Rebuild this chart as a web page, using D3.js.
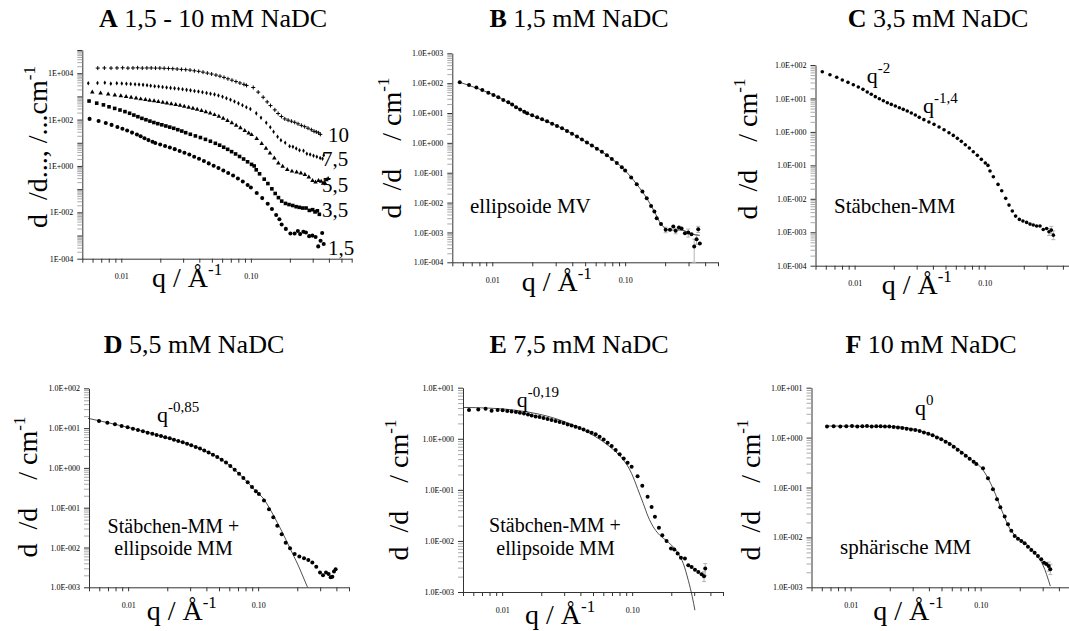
<!DOCTYPE html>
<html>
<head>
<meta charset="utf-8">
<title>SANS NaDC</title>
<script src="https://cdn.jsdelivr.net/npm/d3@7/dist/d3.min.js"></script>
<style>
  html, body { margin: 0; padding: 0; background: #fff; }
  svg { display: block; background: #fff; }
  text { font-family: "Liberation Serif", "Times New Roman", serif; fill: #000; }
</style>
</head>
<body>
<svg id="fig" width="1069" height="631"></svg>
<script>
// ---- scattering curves: q in 1/Å, intensity in 1/cm ----
// 1,5 mM NaDC
const qB = [0.00569,0.00668,0.00759,0.00841,0.00933,0.0102,0.0111,0.0121,0.0132,0.0141,0.0151,0.0162,0.0174,0.0183,0.01995,0.02176,0.0237,0.02585,0.0282,0.0307,0.0335,0.0365,0.0398,0.0434,0.0473,0.0516,0.0562,0.0613,0.0668,0.0729,0.0794,0.0866,0.0944,0.1,0.111,0.1223,0.1349,0.1454,0.1567,0.166,0.1728,0.1862,0.2018,0.2175,0.2304,0.2399,0.2541,0.266,0.2818,0.2985,0.316,0.331,0.345,0.355,0.365];
const iB = [107,87,71,59,48,40,34,27.4,22.9,19.1,15.6,13.0,11.1,9.8,8.4,7.2,6.2,5.3,4.4,3.7,3.1,2.5,2.04,1.62,1.29,1.02,0.81,0.64,0.50,0.385,0.29,0.213,0.152,0.118,0.0687,0.041,0.0233,0.014,0.0077,0.005,0.003,0.00193,0.00122,0.00122,0.00157,0.00115,0.00146,0.00135,0.00094,0.00099,0.00087,0.00034,0.00059,0.00128,0.00043];
const fitQB = [0.00569,0.0111,0.0183,0.0335,0.0516,0.0729,0.1,0.1223,0.1454,0.166,0.1862,0.2175,0.266,0.316,0.365];
const fitIB = [107,34,9.8,3.1,1.02,0.385,0.118,0.041,0.014,0.005,0.0019,0.0012,0.0012,0.0009,0.0008];
const errB = [[0.2018,0.00098,0.0015],[0.2399,0.0009,0.0014],[0.2985,0.0007,0.0013],[0.331,0.0001,0.0006],[0.345,0.0004,0.0008],[0.355,0.001,0.0016]];

// 3,5 mM NaDC
const qC = [0.00564,0.00646,0.00728,0.00804,0.00889,0.00977,0.01067,0.01159,0.0125,0.01343,0.01442,0.01549,0.01663,0.01784,0.01914,0.02055,0.02207,0.02366,0.0254,0.0273,0.0293,0.0314,0.0341,0.0373,0.0408,0.0446,0.0487,0.0532,0.0574,0.0617,0.0662,0.071,0.0762,0.0818,0.0879,0.0943,0.1012,0.1061,0.11,0.1167,0.1268,0.1353,0.1452,0.154,0.1633,0.173,0.185,0.197,0.2104,0.2234,0.2366,0.2512,0.2667,0.2825,0.2998,0.3126,0.326,0.3377];
const iC = [63,51,43,35.6,30.3,25.8,22.0,18.7,15.6,13.3,11.3,9.84,8.57,7.46,6.65,5.93,5.29,4.72,4.21,3.66,3.19,2.72,2.32,1.97,1.68,1.40,1.16,0.946,0.787,0.641,0.521,0.414,0.329,0.256,0.199,0.151,0.117,0.0998,0.068,0.0457,0.0269,0.0174,0.0103,0.00649,0.0043,0.00304,0.00242,0.00216,0.00197,0.00175,0.00164,0.00153,0.00153,0.00121,0.0013,0.00104,0.00116,0.00082];
const errC = [[0.3126,0.0008,0.0013],[0.326,0.0009,0.0015],[0.3377,0.0006,0.0011]];

// 5,5 mM NaDC
const qD = [0.00597,0.00692,0.00792,0.00891,0.00991,0.01089,0.0119,0.013,0.01412,0.01535,0.01656,0.0179,0.0193,0.0209,0.0225,0.0243,0.0263,0.0284,0.0306,0.0331,0.0357,0.0385,0.0416,0.0449,0.0485,0.0524,0.0566,0.0611,0.066,0.0713,0.077,0.0831,0.0897,0.0962,0.1014,0.1109,0.1212,0.1308,0.1404,0.1517,0.1629,0.1759,0.191,0.2075,0.2254,0.2432,0.2612,0.28,0.2992,0.3155,0.3327,0.3485,0.3612,0.3724,0.3832,0.3946];
const iD = [15.1,13.7,12.5,11.3,10.5,9.70,8.98,8.31,7.69,7.26,6.71,6.34,5.87,5.54,5.13,4.75,4.40,4.07,3.70,3.36,3.05,2.72,2.42,2.15,1.88,1.61,1.36,1.12,0.904,0.718,0.558,0.435,0.332,0.258,0.221,0.151,0.0912,0.0574,0.0354,0.0215,0.0132,0.00955,0.00689,0.0059,0.00536,0.00486,0.00417,0.0033,0.00234,0.002,0.00234,0.00216,0.00178,0.00185,0.00248,0.00283];
const fitQD = [0.00491,0.00991,0.0193,0.0357,0.0566,0.077,0.0962,0.1109,0.1212,0.1308,0.1404,0.1517,0.1629,0.1759,0.1888,0.2027,0.2188,0.24];
const fitID = [17.6,10.5,5.87,3.05,1.36,0.558,0.258,0.163,0.102,0.0656,0.0422,0.026,0.0161,0.00955,0.0059,0.00364,0.00204,0.001];

// 7,5 mM NaDC
const qE = [0.00556,0.00655,0.00746,0.0083,0.00923,0.01009,0.01095,0.01182,0.01277,0.0137,0.01472,0.0158,0.01686,0.01809,0.01941,0.02083,0.02237,0.02401,0.02577,0.02767,0.0297,0.0319,0.0342,0.0367,0.0394,0.0423,0.0455,0.0488,0.0524,0.0562,0.0604,0.0648,0.0696,0.0747,0.0802,0.0861,0.0923,0.0991,0.1101,0.1197,0.1315,0.1412,0.1497,0.1607,0.1706,0.1841,0.199,0.2111,0.2239,0.2374,0.2548,0.2704,0.2868,0.3043,0.3228,0.3425,0.3573,0.365];
const iE = [3.65,3.76,3.87,3.54,3.65,3.60,3.48,3.43,3.33,3.24,3.14,3.00,2.87,2.74,2.66,2.54,2.43,2.32,2.22,2.12,2.03,1.91,1.82,1.72,1.62,1.52,1.41,1.31,1.22,1.09,0.97,0.835,0.718,0.60,0.50,0.411,0.338,0.283,0.185,0.12,0.073,0.0464,0.0296,0.0182,0.0129,0.01,0.00708,0.00676,0.00565,0.00471,0.00451,0.00333,0.00309,0.00274,0.00247,0.00222,0.00203,0.00287];
const fitQE = [0.00502,0.00782,0.01413,0.02548,0.0459,0.0655,0.0781,0.0879,0.0991,0.1101,0.1218,0.133,0.1455,0.159,0.179,0.2014,0.2266,0.2476,0.2704,0.2904,0.304];
const fitIE = [4.11,3.99,3.49,2.51,1.33,0.74,0.50,0.354,0.209,0.106,0.054,0.0296,0.0188,0.0139,0.0106,0.0082,0.00565,0.0036,0.00169,0.0008,0.00044];
const errE = [[0.3573,0.0016,0.0025],[0.365,0.0021,0.0036]];

// 10 mM NaDC
const qF = [0.00658,0.0074,0.00833,0.00926,0.01024,0.01125,0.0123,0.01336,0.01452,0.01575,0.01701,0.01837,0.01984,0.02142,0.02312,0.02496,0.02696,0.0291,0.03142,0.03393,0.03663,0.03955,0.04271,0.04611,0.04978,0.05375,0.05775,0.06202,0.06653,0.07145,0.07674,0.08229,0.08833,0.09264,0.1043,0.1139,0.1244,0.1336,0.1417,0.1531,0.1623,0.1722,0.1827,0.1937,0.2055,0.218,0.2312,0.2453,0.2602,0.276,0.2928,0.3071,0.3198,0.3334,0.3435];
const iF = [1.66,1.68,1.66,1.68,1.71,1.66,1.68,1.71,1.66,1.68,1.68,1.66,1.66,1.63,1.60,1.56,1.51,1.46,1.42,1.36,1.27,1.20,1.11,1.01,0.922,0.828,0.743,0.658,0.573,0.499,0.435,0.378,0.33,0.296,0.242,0.153,0.0918,0.058,0.0401,0.0261,0.0183,0.0136,0.0107,0.00944,0.00848,0.0076,0.00653,0.0056,0.00494,0.00425,0.00364,0.00312,0.00293,0.00267,0.0023];
const fitQF = [0.00658,0.0212,0.0382,0.0578,0.0823,0.1043,0.1244,0.1485,0.1672,0.188,0.2244,0.268,0.3013,0.3435];
const fitIF = [1.71,1.66,1.25,0.767,0.384,0.224,0.0962,0.0303,0.0152,0.0104,0.00738,0.00445,0.0028,0.00106];
const errF = [[0.3334,0.0021,0.0032],[0.3435,0.0018,0.0029]];

// overview panel: curves shifted by decades
const concLabels  = ["10", "7,5", "5,5", "3,5", "1,5"];
const concFactors = [1e4, 1e3, 1e2, 1e1, 1];

// labelled ticks
const xTickValues = [0.01, 0.1];
const xTickText   = ["0.01", "0.10"];

const svg = d3.select("#fig");
const SERIF = "'Liberation Serif', 'Times New Roman', serif";

const isDecade = d => Math.abs(Math.log10(d) - Math.round(Math.log10(d))) < 1e-6;
const expLabel = (d, longForm) => {
  const e = Math.round(Math.log10(d));
  return (longForm ? "1.0E" : "1E") + (e < 0 ? "-" : "+") + String(Math.abs(e)).padStart(3, "0");
};
const pairs = (q, v) => q.map((d, k) => [d, v[k]]);

function makePanel(cfg) {
  const x = d3.scaleLog().domain(cfg.xDom).range(cfg.xRange);
  const y = d3.scaleLog().domain(cfg.yDom).range(cfg.yRange);
  const g = svg.append("g");

  // x axis: every 1..9 x 10^n tick, labels only at 0.01 and 0.10
  const xAxis = d3.axisBottom(x)
    .tickValues(x.ticks())
    .tickSizeInner(4).tickSizeOuter(0).tickPadding(11)
    .tickFormat(d => {
      const k = xTickValues.findIndex(v => Math.abs(v - d) / v < 1e-6);
      return k >= 0 ? xTickText[k] : "";
    });
  const gx = g.append("g").attr("transform", `translate(0,${cfg.yRange[0]})`).call(xAxis);
  gx.attr("font-family", null);
  gx.select(".domain").attr("stroke", "#333").attr("stroke-width", 1);
  gx.selectAll(".tick line").attr("stroke", "#333");
  gx.selectAll(".tick text").style("font-family", SERIF).attr("font-size", 8).attr("fill", "#000");

  // y axis: grey minor ticks, labelled decades
  const yAxis = d3.axisLeft(y)
    .tickValues(y.ticks())
    .tickSizeInner(5).tickSizeOuter(0).tickPadding(4)
    .tickFormat(d => {
      if (!isDecade(d)) return "";
      const e = Math.round(Math.log10(d));
      if (cfg.evenOnly && e % 2 !== 0) return "";
      return expLabel(d, !cfg.evenOnly);
    });
  const gy = g.append("g").attr("transform", `translate(${cfg.xRange[0]},0)`).call(yAxis);
  gy.attr("font-family", null);
  gy.select(".domain").attr("stroke", "#333").attr("stroke-width", 1);
  gy.selectAll(".tick line").attr("stroke", d => isDecade(d) ? "#333" : "#aaa");
  gy.selectAll(".tick text").style("font-family", SERIF).attr("font-size", 8).attr("fill", "#000");

  // title
  const t = g.append("text").attr("x", cfg.title[0]).attr("y", cfg.title[1])
    .attr("text-anchor", "middle").attr("font-size", 26).style("font-family", SERIF);
  t.append("tspan").attr("font-weight", "bold").text(cfg.letter);
  t.append("tspan").text(" " + cfg.titleText);

  // x label
  const xl = g.append("text").attr("x", cfg.xLabel[0]).attr("y", cfg.xLabel[1])
    .attr("font-size", 28).style("font-family", SERIF);
  xl.append("tspan").text("q / Å");
  xl.append("tspan").attr("font-size", 17).attr("dy", -12).text("-1");

  // y label
  const yl = g.append("text")
    .attr("transform", `translate(${cfg.yLabel[0]},${cfg.yLabel[1]}) rotate(-90)`)
    .attr("text-anchor", "middle").attr("font-size", 28)
    .style("font-family", SERIF).style("white-space", "pre");
  yl.append("tspan").text(cfg.yLabelText);
  yl.append("tspan").attr("font-size", 17).attr("dy", -12).text("-1");

  return { g, x, y };
}

function drawDots(p, data, r) {
  p.g.append("g").selectAll("circle").data(data).join("circle")
    .attr("cx", d => p.x(d[0])).attr("cy", d => p.y(d[1])).attr("r", r).attr("fill", "#000");
}
function drawFit(p, data) {
  p.g.append("path").datum(data)
    .attr("fill", "none").attr("stroke", "#222").attr("stroke-width", 0.8)
    .attr("d", d3.line().x(d => p.x(d[0])).y(d => p.y(d[1])).curve(d3.curveMonotoneX));
}
function drawErr(p, errs) {
  const eg = p.g.append("g").attr("stroke", "#b5b5b5").attr("stroke-width", 1);
  errs.forEach(e => {
    const cx = p.x(e[0]);
    eg.append("line").attr("x1", cx).attr("x2", cx).attr("y1", p.y(e[1])).attr("y2", p.y(e[2]));
    eg.append("line").attr("x1", cx - 2).attr("x2", cx + 2).attr("y1", p.y(e[2])).attr("y2", p.y(e[2]));
    eg.append("line").attr("x1", cx - 2).attr("x2", cx + 2).attr("y1", p.y(e[1])).attr("y2", p.y(e[1]));
  });
}
function note(p, x, y, str, size, anchor) {
  p.g.append("text").attr("x", x).attr("y", y).attr("font-size", size || 21)
    .attr("text-anchor", anchor || "start").style("font-family", SERIF).text(str);
}
function power(p, x, y, exponent) {
  const t = p.g.append("text").attr("x", x).attr("y", y).attr("font-size", 22).style("font-family", SERIF);
  t.append("tspan").text("q");
  t.append("tspan").attr("font-size", 15).attr("dy", -10).text(exponent);
}

const yLab = "d  /d    / cm";

// ---- A: all concentrations ----
const pA = makePanel({
  letter: "A", titleText: "1,5 - 10 mM NaDC", title: [213, 27],
  xDom: [0.005, 0.6], xRange: [82.3, 351.7], yDom: [1e-4, 1e5], yRange: [258.7, 50], evenOnly: true,
  xLabel: [152, 287], yLabel: [47, 147], yLabelText: "d  /d..., /...cm"
});
const seriesA = [[qF, iF], [qE, iE], [qD, iD], [qC, iC], [qB, iB]];
const symA = [null, d3.symbolDiamond, d3.symbolTriangle, d3.symbolSquare, d3.symbolCircle];
const sizeA = [0, 6, 9, 13, 13];
seriesA.forEach((s, k) => {
  const data = s[0].map((q, j) => [q, s[1][j] * concFactors[k]]);
  const sg = pA.g.append("g");
  if (symA[k] === null) {
    sg.selectAll("path").data(data).join("path")
      .attr("transform", d => `translate(${pA.x(d[0])},${pA.y(d[1])})`)
      .attr("d", "M-2,0H2M0,-2V2").attr("stroke", "#000").attr("stroke-width", 1).attr("fill", "none");
  } else {
    sg.selectAll("path").data(data).join("path")
      .attr("transform", d => `translate(${pA.x(d[0])},${pA.y(d[1])})`)
      .attr("d", d3.symbol(symA[k], sizeA[k])).attr("fill", "#000");
  }
});
const concPos = [[328, 141.7], [322, 166], [322, 192], [322, 217], [328, 255]];
concLabels.forEach((c, k) => note(pA, concPos[k][0], concPos[k][1], c, 21));

// ---- B ----
const pB = makePanel({
  letter: "B", titleText: "1,5 mM NaDC", title: [579, 27],
  xDom: [0.005, 0.5], xRange: [452.3, 718], yDom: [1e-4, 1e3], yRange: [262.3, 53.3],
  xLabel: [521.7, 291], yLabel: [401, 148], yLabelText: yLab
});
drawErr(pB, errB);
drawFit(pB, pairs(fitQB, fitIB));
drawDots(pB, pairs(qB, iB), 2);
note(pB, 470, 213, "ellipsoide MV");

// ---- C ----
const pC = makePanel({
  letter: "C", titleText: "3,5 mM NaDC", title: [938, 27],
  xDom: [0.005, 0.5], xRange: [815.5, 1075.5], yDom: [1e-4, 1e2], yRange: [265.7, 65],
  xLabel: [881.7, 294], yLabel: [757, 149], yLabelText: yLab
});
drawErr(pC, errC);
drawDots(pC, pairs(qC, iC), 1.8);
power(pC, 866.7, 83, "-2");
power(pC, 923, 113, "-1,4");
note(pC, 834, 213, "Stäbchen-MM");

// ---- D ----
const pD = makePanel({
  letter: "D", titleText: "5,5 mM NaDC", title: [194, 353],
  xDom: [0.005, 0.5], xRange: [89, 349], yDom: [1e-3, 1e2], yRange: [587.3, 388.3],
  xLabel: [146.7, 620], yLabel: [37, 487], yLabelText: yLab
});
drawFit(pD, pairs(fitQD, fitID));
drawDots(pD, pairs(qD, iD), 2);
power(pD, 157, 421.5, "-0,85");
note(pD, 173.5, 533, "Stäbchen-MM +", 20, "middle");
note(pD, 173.5, 555, "ellipsoide MM", 20, "middle");

// ---- E ----
const pE = makePanel({
  letter: "E", titleText: "7,5 mM NaDC", title: [579, 353],
  xDom: [0.005, 0.5], xRange: [463, 723], yDom: [1e-3, 1e1], yRange: [592, 387.7],
  xLabel: [525, 624], yLabel: [408, 490], yLabelText: yLab
});
drawErr(pE, errE);
drawFit(pE, pairs(fitQE, fitIE));
drawDots(pE, pairs(qE, iE), 2);
power(pE, 516.7, 406.5, "-0,19");
note(pE, 555, 532, "Stäbchen-MM +", 20, "middle");
note(pE, 555.5, 555, "ellipsoide MM", 20, "middle");

// ---- F ----
const pF = makePanel({
  letter: "F", titleText: "10 mM NaDC", title: [931, 353],
  xDom: [0.005, 0.5], xRange: [811.5, 1071.5], yDom: [1e-3, 1e1], yRange: [587.3, 387.7],
  xLabel: [873.3, 620], yLabel: [760, 490], yLabelText: yLab
});
drawErr(pF, errF);
drawFit(pF, pairs(fitQF, fitIF));
drawDots(pF, pairs(qF, iF), 2);
power(pF, 915, 415, "0");
note(pF, 840, 554, "sphärische MM");
</script>
</body>
</html>
